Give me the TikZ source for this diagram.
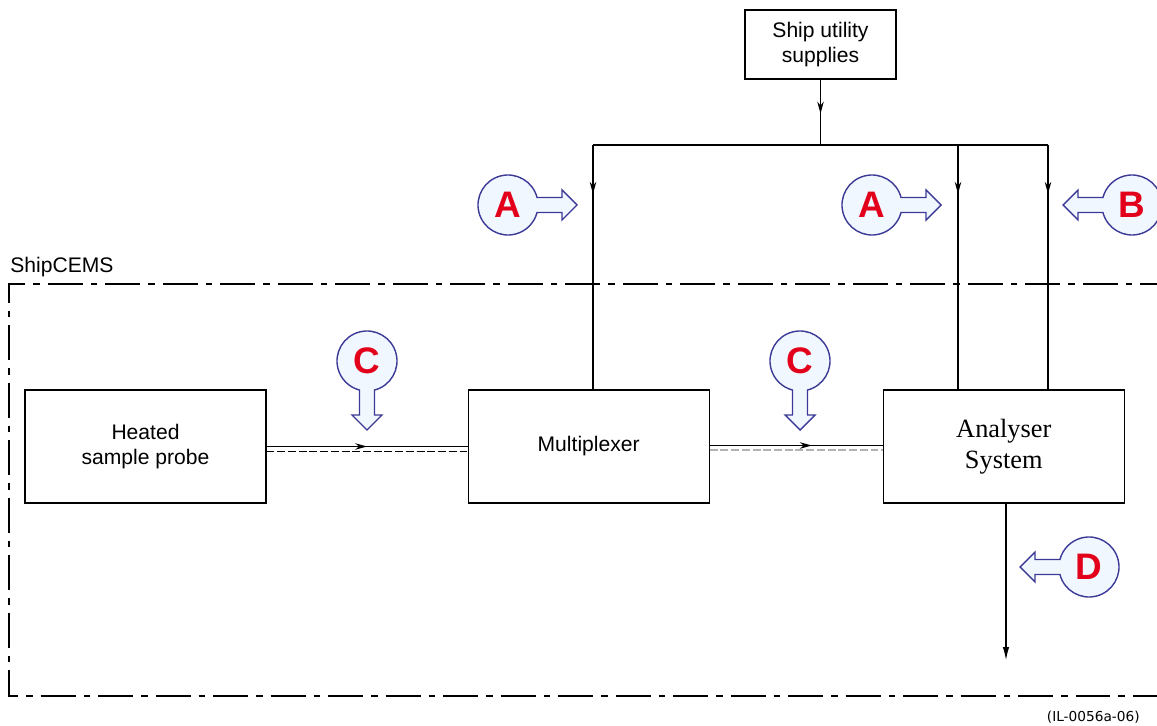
\documentclass[tikz,border=0pt]{standalone}
\usepackage{fontspec}
\setmainfont{Liberation Sans}
\newfontfamily\timesfont{Liberation Serif}
\newfontfamily\widefont{DejaVu Sans}
\usetikzlibrary{arrows.meta,decorations.markings,positioning}

\definecolor{balloonfill}{HTML}{F0F7FF}
\definecolor{balloonline}{HTML}{3C3A96}
\definecolor{balloontext}{HTML}{E2001A}

\tikzset{
    unitbox/.style={draw, line width=0.7pt, minimum width=4.82cm, minimum height=2.26cm,
        inner sep=0pt, align=center, font=\fontsize{12}{14.5}\selectfont},
    flowline/.style={line width=0.6pt},
    midarrow/.style={postaction={decorate}, decoration={markings,
        mark=at position #1 with {\arrow{Stealth[length=2.4mm,width=1.3mm]}}}},
    balloon/.pic={
        \draw[line width=0.8pt, draw=balloonline, fill=balloonfill, line join=miter]
            (14.5:30) -- (54,7.5) -- (54,15) -- (69,0) -- (54,-15) -- (54,-7.5) -- (-14.5:30)
            arc[start angle=-14.5, end angle=-345.5, radius=30] -- cycle;
        \node[text=balloontext, font=\fontsize{21}{21}\bfseries\selectfont] (-lbl) at (0,0) {#1};
    }
}

\begin{document}
\begin{tikzpicture}[x=0.02cm, y=-0.02cm]
    \useasboundingbox (0,0) rectangle (1157,726);

    % Draw the boundary of the ShipCEMS.
    \draw[line width=0.6pt, dash pattern=on 0.7cm off 0.16cm on 0.13cm off 0.16cm]
        (1175,284) -- (9,284) -- (9,696) -- (1175,696);
    \node[anchor=base west, inner sep=0pt, font=\fontsize{12}{14}\selectfont] (cems) at (10,273) {ShipCEMS};

    % Draw the units.
    \node[unitbox] (probe) at (145.5,446.5) {Heated\\sample probe};
    \node[unitbox, right=4.02cm of probe] (mux) {Multiplexer};
    \node[unitbox, right=3.46cm of mux, font=\timesfont\fontsize{15}{17.6}\selectfont] (analyser) {Analyser\\System};
    \node[draw, line width=0.7pt, minimum width=3.02cm, minimum height=1.38cm, inner sep=0pt,
        align=center, font=\fontsize{12}{14}\selectfont] (ship) at (820.5,44.5) {Ship utility\\supplies};

    % Draw the supply lines.
    \coordinate (busL) at (593,145);
    \coordinate (busM) at (958,145);
    \coordinate (busR) at (1048,145);
    \draw[flowline] (busL) -- (busR);
    \draw[flowline, midarrow=0.52] (ship.south) -- (ship.south |- busL);
    \foreach \c/\t in {busL/mux, busM/analyser, busR/analyser}
        \draw[flowline, midarrow=0.2] (\c) -- (\c |- \t.north);

    % Draw the sample lines.
    \draw[flowline, midarrow=0.5] (probe.east) -- (mux.west);
    \draw[flowline, dash pattern=on 4.5pt off 1.6pt] ([yshift=-0.1cm]probe.east) -- ([yshift=-0.1cm]mux.west);
    \draw[flowline, midarrow=0.59] ([yshift=0.02cm]mux.east) -- ([yshift=0.02cm]analyser.west);
    \draw[flowline, gray!60, dash pattern=on 4.5pt off 1.6pt] ([yshift=-0.07cm]mux.east) -- ([yshift=-0.07cm]analyser.west);

    % Draw the output line.
    \coordinate (vent) at (1006,660);
    \draw[flowline, -{Latex[length=2.6mm,width=1.3mm]}] (analyser.south -| vent) -- (vent);

    % Draw the balloons.
    \foreach \n/\x/\y/\r/\l in {balA1/508/205/0/A, balA2/872/205/0/A, balB/1132/205/180/B,
                                 balC1/367/361/-90/C, balC2/800/361/-90/C, balD/1089/567/180/D}
        \pic[rotate=\r] (\n) at (\x,\y) {balloon=\l};

    \node[anchor=base east, inner sep=0pt, font=\widefont\fontsize{7.8}{9}\selectfont] (ref) at (1140,721) {(IL-0056a-06)};
\end{tikzpicture}
\end{document}
